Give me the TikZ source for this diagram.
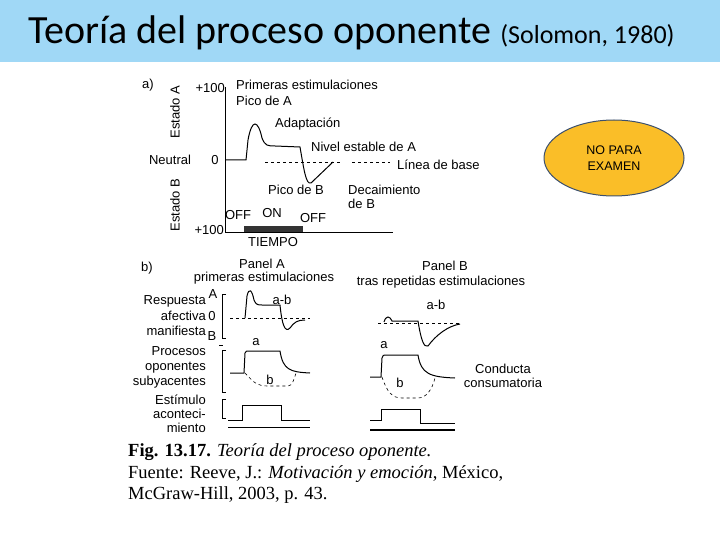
\documentclass[tikz,border=0pt]{standalone}
\usepackage{fontspec}
\setmainfont{Liberation Sans}
\newfontfamily\calib{Carlito}
\newfontfamily\capf{Liberation Serif}
\usetikzlibrary{shapes.geometric}
\definecolor{titlebg}{RGB}{160,216,246}
\definecolor{orng}{RGB}{250,190,40}
\definecolor{edge}{RGB}{60,80,110}
\begin{document}
\begin{tikzpicture}[x=1pt,y=-1pt,
  lbl/.style={inner sep=0pt,font=\fontsize{13}{14}\selectfont},
  rlbl/.style={lbl,anchor=east,align=right},
  crv/.style={line width=1pt},
  base/.style={dashed,line width=0.6pt},
  ax/.style={line width=0.8pt}]
\useasboundingbox (0,0) rectangle (720,540);
\fill[white] (0,0) rectangle (720,540);
\fill[titlebg] (0,0) rectangle (720,62);
\node[inner sep=0pt,anchor=west] (title) at (28,33) {\calib\fontsize{40}{44}\selectfont Teoría del proceso oponente \fontsize{26}{28}\selectfont(Solomon, 1980)};
% ---- panel a
\node[lbl] (la) at (148,85) {a)};
\draw[ax] (225,87) -- (225,232) -- (393,232);
\node[lbl,anchor=east] (p100a) at (225,88) {+100};
\node[lbl,anchor=east] (p100b) at (224,230) {+100};
\node[lbl,rotate=90] (estA) at (175,112) {Estado A};
\node[lbl,rotate=90] (estB) at (175,205) {Estado B};
\node[lbl] (neu) at (170,160) {Neutral};
\node[lbl] (zero) at (215,160) {0};
\draw[crv] (225,160) -- (246,160) -- (248,140) .. controls (252,118) and (258,120) .. (262,138) .. controls (265,146) and (268,146) .. (275,146) -- (300,147) .. controls (304,170) and (306,185) .. (311,183) -- (333,162);
\draw[base] (265,162) -- (340,162);
\draw[base] (352,162) -- (390,162);
\node[lbl,anchor=west] (lb) at (397,165) {Línea de base};
\node[lbl,anchor=west] (pe) at (236,85) {Primeras estimulaciones};
\node[lbl,anchor=west] (pa) at (236,101) {Pico de A};
\node[lbl,anchor=west] (ad) at (275,124) {Adaptación};
\node[lbl,anchor=west] (ne) at (311,147) {Nivel estable de A};
\node[lbl,anchor=west] (pb) at (268,190) {Pico de B};
\node[lbl,anchor=west,align=left] (dec) at (348,197) {Decaimiento\\de B};
\node[lbl] (off1) at (238,215) {OFF};
\node[lbl] (on) at (272,213) {ON};
\node[lbl] (off2) at (313,218) {OFF};
\fill[black!80] (244,226) rectangle (303,232);
\node[lbl] (tiempo) at (273,242) {TIEMPO};
% ---- panel b
\node[lbl] (lbb) at (147,268) {b)};
\node[lbl] (pA) at (262,264) {Panel A};
\node[lbl] (pAs) at (264,278) {primeras estimulaciones};
\node[lbl] (pB) at (445,266) {Panel B};
\node[lbl] (pBs) at (441,282) {tras repetidas estimulaciones};
\node[rlbl,font=\fontsize{13}{15.5}\selectfont] (resp) at (206,316) {Respuesta\\afectiva\\manifiesta};
\node[rlbl,font=\fontsize{13}{15}\selectfont] (proc) at (206,367) {Procesos\\oponentes\\subyacentes};
\node[rlbl,font=\fontsize{13}{14}\selectfont] (est) at (206,414) {Estímulo\\aconteci-\\miento};
\node[lbl] (A) at (213,294) {A};
\node[lbl] (O) at (212,316) {0};
\node[lbl] (B) at (212,336) {B};
\draw[ax] (226,294) -- (222,294) -- (222,338) -- (226,338);
\draw[ax] (219,345) -- (223,345);
\draw[ax] (226,350) -- (222,350) -- (222,392) -- (226,392);
\draw[ax] (226,399) -- (222,399) -- (222,418) -- (226,418);
% panel A curves
\draw[base] (230,318) -- (310,318);
\draw[crv] (245,318) -- (247,296) .. controls (249,287) and (252,290) .. (254,300) .. controls (256,305) and (258,305) .. (262,305) -- (280,305) .. controls (282,325) and (285,333) .. (290,328) .. controls (294,322) and (298,320) .. (305,320);
\node[lbl] (ab1) at (282,300) {a-b};
\node[lbl] (a1) at (256,342) {a};
\draw[crv] (230,373) -- (244,373) -- (245,353) .. controls (246,351) .. (250,351) -- (280,351) .. controls (283,370) and (290,372) .. (310,373);
\draw[base] (245,373) .. controls (255,384) and (258,386) .. (268,386) -- (288,386) .. controls (292,386) and (294,380) .. (296,373);
\node[lbl] (b1) at (270,380) {b};
\draw[crv] (228,420) -- (242,420) -- (242,405) -- (281,405) -- (281,420) -- (310,420);
\draw[crv] (228,427) -- (310,427);
% panel B curves
\draw[base] (378,323) -- (460,323);
\draw[crv] (384,322) .. controls (386,315) and (390,316) .. (392,321) -- (418,321) .. controls (421,340) and (424,348) .. (428,346) .. controls (436,335) and (448,326) .. (460,324);
\node[lbl] (ab2) at (436,305) {a-b};
\node[lbl] (a2) at (384,345) {a};
\draw[crv] (370,377) -- (381,377) -- (382,358) .. controls (383,355) .. (386,355) -- (418,355) .. controls (421,374) and (430,377) .. (455,378);
\draw[base] (382,377) .. controls (387,392) and (392,398) .. (402,398) -- (418,398) .. controls (426,398) and (432,390) .. (435,378);
\node[lbl] (b2) at (400,383) {b};
\node[lbl,align=center] (cc) at (503,376) {Conducta\\consumatoria};
\draw[crv] (370,420) -- (381,420) -- (381,409) -- (420,409) -- (420,423) -- (455,423);
\draw[line width=1.5pt] (370,430) -- (455,430);
% ---- badge
\node[ellipse,fill=orng,draw=edge,line width=1pt,minimum width=140pt,minimum height=76pt,align=center,font=\fontsize{12.5}{16}\selectfont] (np) at (614,158) {NO PARA\\EXAMEN};
% ---- caption
\node[inner sep=0pt,anchor=west,font=\capf\fontsize{18.5}{21.5}\selectfont,align=left] (cap) at (128,474) {\textbf{Fig. 13.17.} \textit{Teoría del proceso oponente.}\\Fuente: \textsc{Reeve}, J.: \textit{Motivación y emoción}, México,\\McGraw-Hill, 2003, p. 43.};
\end{tikzpicture}
\end{document}
